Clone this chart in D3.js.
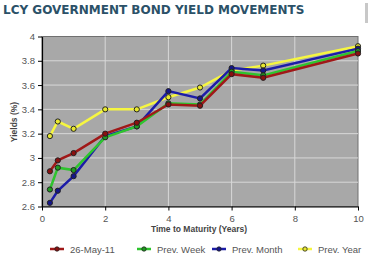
<!DOCTYPE html>
<html>
<head>
<meta charset="utf-8">
<script src="https://cdn.jsdelivr.net/npm/d3@7"></script>
<style>
  body { margin: 0; background: #fff; }
  svg { display: block; font-family: "Liberation Sans", Arial, sans-serif; }
</style>
</head>
<body>
<div id="root"></div>
<script>
// maturities in years
const maturities = [0.25, 0.5, 1, 2, 3, 4, 5, 6, 7, 10];
const yieldCurrent = [2.89, 2.98, 3.04, 3.20, 3.29, 3.44, 3.43, 3.69, 3.66, 3.86];
const yieldPrevWeek = [2.74, 2.92, 2.90, 3.17, 3.26, 3.45, 3.44, 3.71, 3.68, 3.88];
const yieldPrevMonth = [2.63, 2.73, 2.85, 3.18, 3.26, 3.55, 3.49, 3.74, 3.72, 3.90];
const yieldPrevYear = [3.18, 3.30, 3.24, 3.40, 3.40, 3.50, 3.58, 3.72, 3.76, 3.92];
const seriesNames = ["26-May-11", "Prev. Week", "Prev. Month", "Prev. Year"];
const xTicks = [0, 2, 4, 6, 8, 10];
const yTicks = [2.6, 2.8, 3, 3.2, 3.4, 3.6, 3.8, 4];

const colors = ["#a01818", "#2ec42e", "#1c1ca8", "#f6f640"];
const dotFill = ["#8a1010", "#1f9a1f", "#14148a", "#e8e830"];

const W = 368, H = 271;
const svg = d3.select('#root').append('svg')
  .attr('width', W).attr('height', H);

// title
svg.append('text')
  .attr('x', 3).attr('y', 14)
  .attr('fill', '#2b5168')
  .style('font-family', 'Verdana, "DejaVu Sans", sans-serif')
  .style('font-weight', 'bold')
  .style('font-size', '12px')
  .text('LCY GOVERNMENT BOND YIELD MOVEMENTS');

// little gray strip at top right
svg.append('rect')
  .attr('x', 365).attr('y', 3).attr('width', 3).attr('height', 20)
  .attr('fill', '#c8c8c8');

const plotL = 42, plotR = 358, plotT = 36.5, plotB = 206.5;

const x = d3.scaleLinear().domain([0, 10]).range([plotL, plotR]);
const y = d3.scaleLinear().domain([2.6, 4]).range([plotB, plotT]);

svg.append('rect')
  .attr('x', plotL).attr('y', plotT)
  .attr('width', plotR - plotL).attr('height', plotB - plotT)
  .attr('fill', '#a8a8a8')
  .attr('stroke', '#707070')
  .attr('stroke-width', 1);

// grid
svg.append('g').selectAll('line')
  .data(xTicks.slice(1, -1))
  .join('line')
  .attr('x1', d => x(d)).attr('x2', d => x(d))
  .attr('y1', plotT).attr('y2', plotB)
  .attr('stroke', '#d8d8d8').attr('stroke-width', 1);
svg.append('g').selectAll('line')
  .data(yTicks.slice(1, -1))
  .join('line')
  .attr('x1', plotL).attr('x2', plotR)
  .attr('y1', d => y(d)).attr('y2', d => y(d))
  .attr('stroke', '#d8d8d8').attr('stroke-width', 1);

// axes
const xAxis = svg.append('g')
  .attr('transform', `translate(0,${plotB})`)
  .call(d3.axisBottom(x).tickValues(xTicks).tickSize(4).tickSizeOuter(0).tickFormat(d3.format('d')));
const yAxis = svg.append('g')
  .attr('transform', `translate(${plotL},0)`)
  .call(d3.axisLeft(y).tickValues(yTicks).tickSize(4).tickSizeOuter(0).tickFormat(d => String(+d.toFixed(1))));
[xAxis, yAxis].forEach(a => {
  a.select('.domain').attr('stroke', '#000').attr('stroke-width', 1.2);
  a.selectAll('.tick line').attr('stroke', '#000');
  a.selectAll('text').attr('fill', '#555').style('font-size', '9.5px')
    .style('font-family', '"Liberation Sans", Arial, sans-serif');
});
xAxis.selectAll('text').attr('dy', '0.9em');

// axis titles
svg.append('text')
  .attr('transform', 'translate(17,122) rotate(-90)')
  .attr('text-anchor', 'middle')
  .attr('fill', '#444')
  .style('font-weight', 'bold').style('font-size', '8.5px')
  .text('Yields (%)');
svg.append('text')
  .attr('x', 199).attr('y', 232)
  .attr('text-anchor', 'middle')
  .attr('fill', '#444')
  .style('font-weight', 'bold').style('font-size', '8.5px')
  .text('Time to Maturity (Years)');

// series, drawn last-first so the current curve ends on top
const allSeries = [yieldCurrent, yieldPrevWeek, yieldPrevMonth, yieldPrevYear];
const line = d3.line().x((d, i) => x(maturities[i])).y(d => y(d));
const order = [3, 2, 1, 0];
order.forEach(k => {
  const g = svg.append('g');
  g.append('path')
    .attr('d', line(allSeries[k]))
    .attr('fill', 'none')
    .attr('stroke', colors[k])
    .attr('stroke-width', 2.5);
  g.selectAll('circle')
    .data(allSeries[k])
    .join('circle')
    .attr('cx', (d, i) => x(maturities[i]))
    .attr('cy', d => y(d))
    .attr('r', 2.6)
    .attr('fill', dotFill[k])
    .attr('stroke', '#222')
    .attr('stroke-width', 1);
});

// legend
const legendX = [50, 137, 212, 298];
const lg = svg.append('g').selectAll('g')
  .data(seriesNames)
  .join('g')
  .attr('transform', (d, i) => `translate(${legendX[i]},249)`);
lg.append('line')
  .attr('x1', 0).attr('x2', 14)
  .attr('stroke', (d, i) => colors[i]).attr('stroke-width', 2.5);
lg.append('circle')
  .attr('cx', 7).attr('r', 2.2)
  .attr('fill', (d, i) => dotFill[i])
  .attr('stroke', '#222').attr('stroke-width', 0.8);
lg.append('text')
  .attr('x', 20)
  .attr('y', 3.5)
  .attr('fill', '#555')
  .style('font-size', '9.5px')
  .text(d => d);
</script>
</body>
</html>
